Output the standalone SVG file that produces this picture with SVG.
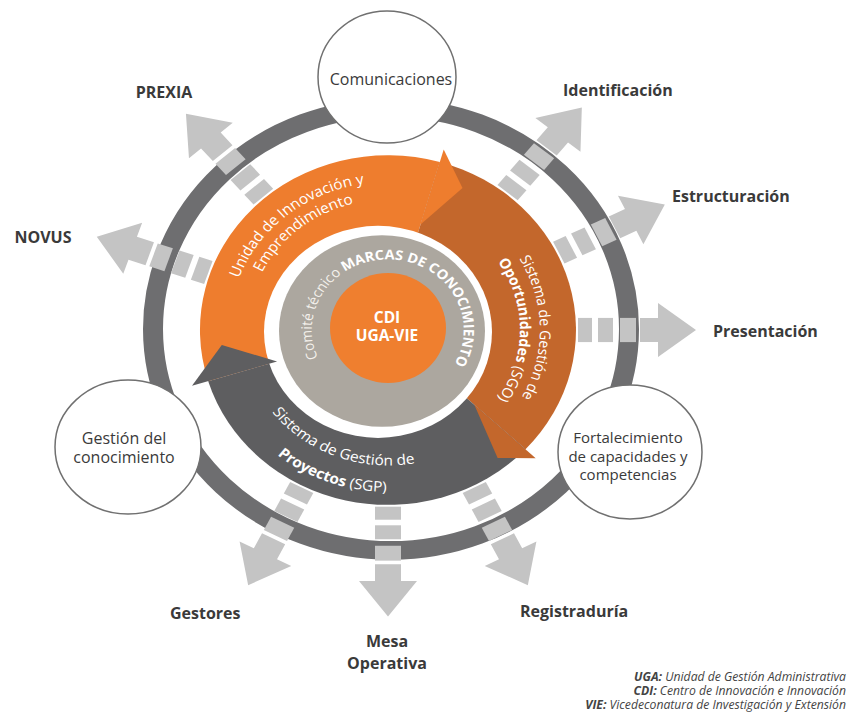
<svg xmlns="http://www.w3.org/2000/svg" width="849" height="715" viewBox="0 0 849 715">
<style>
text{font-family:"Open Sans","Liberation Sans",sans-serif}
.lbl{font-size:16px;font-weight:700;fill:#3a3a3a}
.node{fill:#fff;stroke:#707070;stroke-width:1.5}
.nt{font-size:16px;fill:#3a3a3a;text-anchor:middle}
.arc{font-size:15.5px;fill:#fff}
.b{font-weight:700}
.ra{fill:#c4c4c4}
.leg{font-size:12.2px;font-style:italic;fill:#444;text-anchor:end}
.ctr{font-size:15.5px;font-weight:700;fill:#fff;text-anchor:middle}
</style>
<defs>
<g id="ra">
<rect x="190" y="-13" width="14" height="26"/>
<rect x="210" y="-13" width="15" height="26"/>
<rect x="232" y="-13" width="16" height="26"/>
<polygon points="252,-13 270,-13 270,-29 308,0 270,29 270,13 252,13"/>
</g>
<path id="po1" d="M-131.8 88.9 A159 159 0 0 1 114.4 -110.5"/>
<path id="po2" d="M-116.1 78.3 A140 140 0 0 1 100.7 -97.3"/>
<path id="pb1" d="M10.6 -151.6 A152 152 0 0 1 15.9 151.2"/>
<path id="pb2" d="M11.5 -131.5 A132 132 0 0 1 11.5 131.5"/>
<path id="pd1" d="M-140.3 -40.2 A146 146 0 0 0 131.2 64.0"/>
<path id="pd2" d="M-168.1 -45.0 A174 174 0 0 0 157.7 73.5"/>
<path id="pg" d="M-17.1 74.1 A76 76 0 1 1 9.3 75.4"/>
</defs>

<g id="ring" transform="translate(388,330) scale(1,0.93)">
<circle cx="3" cy="-1" r="238" fill="none" stroke="#6e6e70" stroke-width="20"/>
</g>

<g id="connectors" class="ra" transform="translate(388,330) scale(1,0.93)">
<use href="#ra" transform="rotate(0)"/>
<use href="#ra" transform="rotate(-26)"/>
<use href="#ra" transform="rotate(-51)"/>
<use href="#ra" transform="rotate(229)"/>
<use href="#ra" transform="rotate(199)"/>
<use href="#ra" transform="rotate(117)"/>
<use href="#ra" transform="rotate(90)"/>
<use href="#ra" transform="rotate(63)"/>
</g>

<g id="cycle" transform="translate(388,330) scale(1,0.93)">
<path d="M0 0 L-179.8 55.0 A188 188 0 0 1 51.8 -180.7 Z" fill="#ee7d2e"/>
<path d="M0 0 L51.8 -180.7 A188 188 0 0 1 137.5 128.2 Z" fill="#c3672c"/>
<path d="M0 0 L137.5 128.2 A188 188 0 0 1 -179.8 55.0 Z" fill="#5e5e60"/>
<circle cx="-10" cy="2" r="114" fill="#fff"/>
<polygon points="32.5,-113.4 55.7,-194.2 74.5,-152.8" fill="#ee7d2e"/>
<polygon points="86.3,80.5 147.7,137.8 109.6,137.7" fill="#c3672c"/>
<polygon points="-110.9,33.9 -196.0,59.9 -166.2,16.0" fill="#5e5e60"/>
</g>

<g id="comite" transform="translate(388,330) scale(1,0.93)">
<circle cx="-6" cy="1" r="103" fill="#aca79f"/>
<text class="arc" style="font-size:14.5px"><textPath href="#pg" startOffset="50%" text-anchor="middle"><tspan fill="#f4f1ec">Comité técnico </tspan><tspan class="b">MARCAS DE CONOCIMIENTO</tspan></textPath></text>
</g>

<g id="cdi">
<ellipse cx="388" cy="328" rx="58" ry="55" fill="#ef7f2f"/>
<text class="ctr" x="387" y="323">CDI</text>
<text class="ctr" x="387" y="341">UGA-VIE</text>
</g>

<g id="arc-labels" transform="translate(388,330) scale(1,0.93)">
<text class="arc"><textPath href="#po1" startOffset="50%" text-anchor="middle">Unidad de Innovación y</textPath></text>
<text class="arc"><textPath href="#po2" startOffset="50%" text-anchor="middle">Emprendimiento</textPath></text>
<text class="arc" style="font-size:15px"><textPath href="#pb1" startOffset="50%" text-anchor="middle">Sistema de Gestión de</textPath></text>
<text class="arc" style="font-size:15px"><textPath href="#pb2" startOffset="50%" text-anchor="middle"><tspan class="b">Oportunidades</tspan> (SGO)</textPath></text>
<text class="arc"><textPath href="#pd1" startOffset="50%" text-anchor="middle">Sistema de Gestión de</textPath></text>
<text class="arc"><textPath href="#pd2" startOffset="50%" text-anchor="middle"><tspan class="b">Proyectos</tspan> (SGP)</textPath></text>
</g>

<g id="comunicaciones">
<ellipse class="node" cx="387" cy="77" rx="69" ry="66"/>
<text class="nt" x="391" y="85">Comunicaciones</text>
</g>
<g id="gestion-conocimiento">
<ellipse class="node" cx="128" cy="447" rx="73" ry="67"/>
<text class="nt" x="124" y="444">Gestión del</text>
<text class="nt" x="124" y="463">conocimiento</text>
</g>
<g id="fortalecimiento">
<ellipse class="node" cx="630" cy="452" rx="72" ry="67"/>
<text class="nt" style="font-size:15px" x="628" y="443">Fortalecimiento</text>
<text class="nt" style="font-size:15px" x="628" y="462">de capacidades y</text>
<text class="nt" style="font-size:15px" x="628" y="480">competencias</text>
</g>

<g id="labels">
<text class="lbl" x="164" y="98" text-anchor="middle">PREXIA</text>
<text class="lbl" x="43" y="243" text-anchor="middle">NOVUS</text>
<text class="lbl" x="563" y="96">Identificación</text>
<text class="lbl" x="672" y="202">Estructuración</text>
<text class="lbl" x="713" y="337">Presentación</text>
<text class="lbl" x="520" y="617">Registraduría</text>
<text class="lbl" x="170" y="619">Gestores</text>
<text class="lbl" x="387" y="647" text-anchor="middle">Mesa</text>
<text class="lbl" x="387" y="669" text-anchor="middle">Operativa</text>
</g>

<g id="legend">
<text class="leg" x="846" y="681"><tspan font-weight="700">UGA:</tspan> Unidad de Gestión Administrativa</text>
<text class="leg" x="846" y="695"><tspan font-weight="700">CDI:</tspan> Centro de Innovación e Innovación</text>
<text class="leg" x="846" y="709"><tspan font-weight="700">VIE:</tspan> Vicedeconatura de Investigación y Extensión</text>
</g>
</svg>
